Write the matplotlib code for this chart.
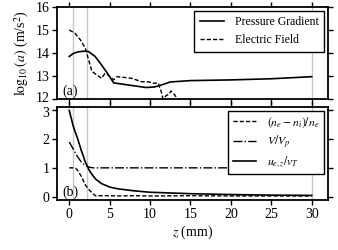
import matplotlib
matplotlib.use("Agg")
import matplotlib.pyplot as plt
from matplotlib.transforms import ScaledTranslation

plt.rcParams['font.family'] = ['Liberation Serif', 'DejaVu Serif']
plt.rcParams['mathtext.fontset'] = 'stix'

# (a) acceleration, log10(a) in m/s^2
z_pg = [0, 0.5, 1.0, 1.5, 2.0, 2.4, 3.2, 4.0, 4.85, 5.5, 6.5, 8.5, 9.5, 10.5, 11.5, 12.5, 15, 20, 25, 30]
pressure_grad = [13.85, 13.98, 14.04, 14.07, 14.08, 14.06, 13.85, 13.48, 13.05, 12.7, 12.65, 12.55, 12.5, 12.52, 12.62, 12.74, 12.8, 12.83, 12.88, 12.97]

z_ef = [0, 0.7, 1.4, 2.0, 2.4, 2.8, 3.4, 4.0, 4.4, 4.8, 5.5, 5.9, 6.5, 7.7, 9.0, 9.8, 10.4, 11.0, 11.4, 11.6, 12.0, 12.3, 12.6, 13.0, 13.4, 13.8]
electric_field = [15.0, 14.86, 14.56, 14.2, 13.7, 13.2, 13.05, 12.9, 13.1, 13.05, 12.83, 12.97, 12.95, 12.9, 12.75, 12.75, 12.68, 12.7, 12.3, 12.0, 12.15, 12.2, 12.35, 12.2, 12.0, 11.8]

# (b) normalised quantities
z_b = [0, 0.5, 0.8, 1.0, 1.5, 2.0, 2.5, 3.0, 3.3, 4, 5, 6, 8, 10, 15, 20, 25, 30]
charge_sep = [1.0, 1.0, 0.98, 0.93, 0.7, 0.4, 0.22, 0.08, 0.02, 0.03, 0.03, 0.02, 0.03, 0.02, 0.03, 0.02, 0.02, 0.02]
pot_ratio = [1.9, 1.65, 1.5, 1.4, 1.2, 1.08, 1.02, 1.0, 1.0, 1.0, 1.0, 1.0, 1.0, 1.0, 1.0, 1.0, 1.0, 1.0]
vel_ratio = [3.0, 2.45, 2.2, 2.05, 1.6, 1.2, 0.9, 0.7, 0.6, 0.45, 0.33, 0.27, 0.2, 0.15, 0.1, 0.07, 0.05, 0.04]

marks = [0.5, 2.2, 30]

fig = plt.figure(figsize=(3.38, 2.5), dpi=100)
ax1 = fig.add_axes([0.169, 0.604, 0.801, 0.368])
ax2 = fig.add_axes([0.169, 0.2, 0.801, 0.372])

for ax in (ax1, ax2):
    for m in marks:
        ax.axvline(m, color='#c8c8c8', lw=1.0, zorder=0)
    ax.set_xlim(-1.5, 32)
    ax.set_xticks([0, 5, 10, 15, 20, 25, 30])
    ax.tick_params(direction='out', length=3.5, width=1, top=True, right=True,
                   labelsize=10, pad=2)
    for s in ax.spines.values():
        s.set_linewidth(1.3)

ax1.plot(z_pg, pressure_grad, 'k-', lw=1.2, label='Pressure Gradient')
ax1.plot(z_ef, electric_field, 'k--', lw=1.0, label='Electric Field', dashes=(3, 1.5))
ax1.set_ylim(12, 16)
ax1.set_yticks([12, 13, 14, 15, 16])
ax1.tick_params(labelbottom=False)
ax1.set_ylabel(r'$\log_{10}(a)$ (m/s$^2$)', fontsize=10, labelpad=3)
ax1.text(0.02, 0.05, '(a)', transform=ax1.transAxes, fontsize=10)
leg = ax1.legend(loc='upper right', fontsize=8.5, fancybox=False, framealpha=1,
                 edgecolor='k', borderaxespad=0.3, handlelength=2.0,
                 handletextpad=0.9, borderpad=0.5)
leg.get_frame().set_linewidth(1.0)

ax2.plot(z_b, charge_sep, 'k--', lw=1.0, dashes=(3, 1.5), label=r'$(n_e-n_i)/n_e$')
ax2.plot(z_b, pot_ratio, 'k-.', lw=1.0, label=r'$V/V_p$')
ax2.plot(z_b, vel_ratio, 'k-', lw=1.2, label=r'$u_{e,z}/v_T$')
ax2.set_ylim(-0.12, 3.12)
ax2.set_yticks([0, 1, 2, 3])
ax2.set_xlabel(r'$z$ (mm)', fontsize=10, labelpad=2)
ax2.text(0.02, 0.05, '(b)', transform=ax2.transAxes, fontsize=10)
leg = ax2.legend(loc='upper right', fontsize=8.5, fancybox=False, framealpha=1,
                 edgecolor='k', borderaxespad=0.3, handlelength=2.0,
                 handletextpad=0.9, labelspacing=0.3, borderpad=0.4)
leg.get_frame().set_linewidth(1.0)

# nudge the "12" and "3" labels apart a little, they sit very close
t12 = ax1.yaxis.get_major_ticks()[0].label1
t12.set_transform(t12.get_transform() + ScaledTranslation(0, 1.5 / 72, fig.dpi_scale_trans))
t3 = ax2.yaxis.get_major_ticks()[-1].label1
t3.set_transform(t3.get_transform() + ScaledTranslation(0, -1.0 / 72, fig.dpi_scale_trans))

fig.savefig('out.png', dpi=100)
